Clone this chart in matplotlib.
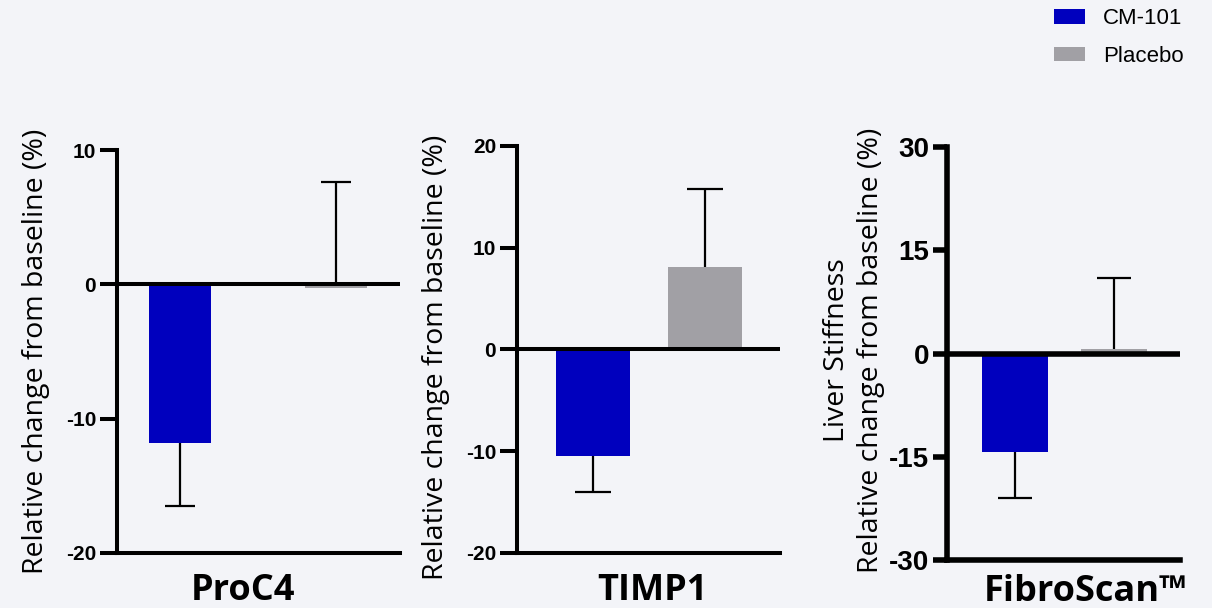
import matplotlib
matplotlib.use("Agg")
import matplotlib.pyplot as plt
from matplotlib.patches import Patch

plt.rcParams["axes.unicode_minus"] = False

# data
series = ["CM-101", "Placebo"]
panels = ["ProC4", "TIMP1", "FibroScan™"]
means = {
    "ProC4": [-11.8, -0.3],
    "TIMP1": [-10.5, 8.15],
    "FibroScan™": [-14.3, 0.6],
}
errors = {
    "ProC4": [4.7, 7.9],
    "TIMP1": [3.5, 7.65],
    "FibroScan™": [6.7, 10.3],
}
err_side = ["down", "up"]   # CM-101 bars get the lower bar, placebo the upper one
y_ranges = {"ProC4": (-20, 10), "TIMP1": (-20, 20), "FibroScan™": (-30, 30)}
y_ticks = {
    "ProC4": [-20, -10, 0, 10],
    "TIMP1": [-20, -10, 0, 10, 20],
    "FibroScan™": [-30, -15, 0, 15, 30],
}
y_labels = {
    "ProC4": "Relative change from baseline (%)",
    "TIMP1": "Relative change from baseline (%)",
    "FibroScan™": "Liver Stiffness\nRelative change from baseline (%)",
}

colors = ["#0000BE", "#A1A0A5"]
bg = "#F3F4F8"

W, H = 1212, 608
fig = plt.figure(figsize=(W / 100, H / 100), dpi=100, facecolor=bg)

# layout in pixels: axes box, xlim, bar width, spine width, tick size, label spots
layout = {
    "ProC4": dict(box=(117, 150, 400, 553), xlim=(-0.404, 1.41), bw=0.40, lw=2.9,
                  tick_fs=15, capsize=10.5, ticklen=12,
                  ylab=(36, 351), xlab=(243, 600)),
    "TIMP1": dict(box=(517, 146, 780, 553), xlim=(-0.68, 1.67), bw=0.66, lw=2.9,
                  tick_fs=15, capsize=13, ticklen=12,
                  ylab=(436, 357), xlab=(652, 600)),
    "FibroScan™": dict(box=(947, 147, 1180, 560), xlim=(-0.68, 1.66), bw=0.66, lw=4.0,
                       tick_fs=20, capsize=12, ticklen=10,
                       ylab=(854, 350), xlab=(1085, 601)),
}

for name in panels:
    L = layout[name]
    x0, y0, x1, y1 = L["box"]
    ax = fig.add_axes([x0 / W, 1 - y1 / H, (x1 - x0) / W, (y1 - y0) / H])
    ax.set_facecolor(bg)
    xs = [0, 1]
    ax.bar(xs, means[name], width=L["bw"], color=colors, zorder=2)
    for i, x in enumerate(xs):
        e = errors[name][i]
        yerr = [[e], [0]] if err_side[i] == "down" else [[0], [e]]
        eb = ax.errorbar([x], [means[name][i]], yerr=yerr, fmt="none", ecolor="black",
                         elinewidth=1.6, capsize=L["capsize"], capthick=1.6, zorder=1)
        # only keep the cap on the far end of the bar
        lower_cap, upper_cap = eb[1]
        (upper_cap if err_side[i] == "down" else lower_cap).set_visible(False)
    ax.axhline(0, color="black", lw=L["lw"], zorder=3)
    ax.set_xlim(*L["xlim"])
    ax.set_ylim(*y_ranges[name])
    ax.set_yticks(y_ticks[name])
    ax.set_xticks([])
    for s in ["top", "right"]:
        ax.spines[s].set_visible(False)
    for s in ["left", "bottom"]:
        ax.spines[s].set_linewidth(L["lw"])
    ax.tick_params(axis="y", length=L["ticklen"], width=L["lw"], pad=3)
    for lab in ax.get_yticklabels():
        lab.set_fontfamily(["Liberation Sans"])
        lab.set_fontweight("bold")
        lab.set_fontsize(L["tick_fs"])

    fig.text(L["ylab"][0] / W, 1 - L["ylab"][1] / H, y_labels[name], rotation=90,
             ha="center", va="center", multialignment="center",
             family="Open Sans", fontsize=20.5, linespacing=1.25)
    fig.text(L["xlab"][0] / W, 1 - L["xlab"][1] / H, name, ha="center", va="baseline",
             family="Open Sans", fontweight="bold", fontsize=26)

handles = [Patch(facecolor=c, edgecolor="none") for c in colors]
fig.legend(handles, series, loc="upper left", bbox_to_anchor=(1054 / W, 1 - 8 / H),
           frameon=False, prop={"family": "Liberation Sans", "size": 16},
           handlelength=1.4, handleheight=0.64, handletextpad=0.8,
           labelspacing=0.75, borderpad=0, borderaxespad=0)

fig.savefig("out.png", dpi=100, facecolor=bg)
